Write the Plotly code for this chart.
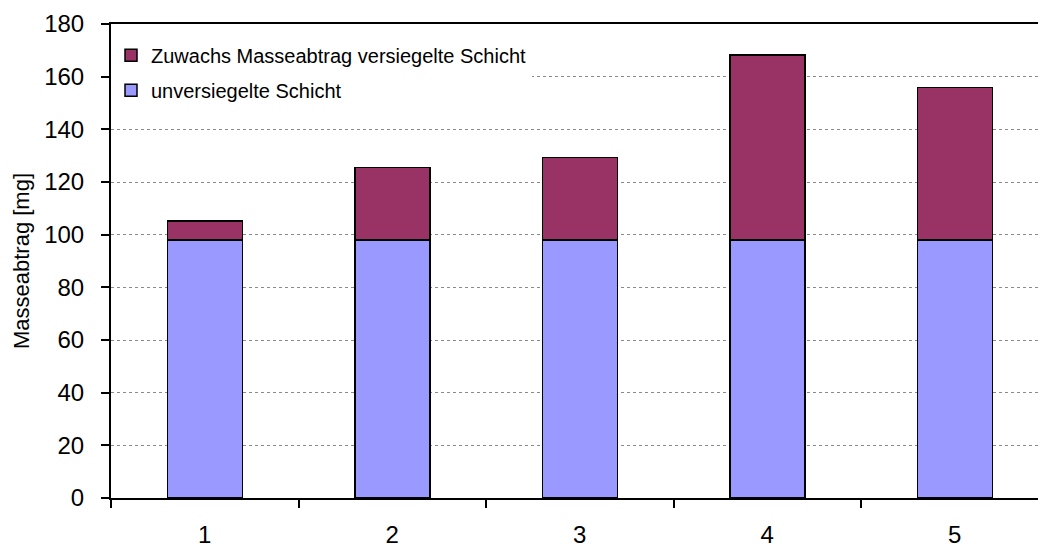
import plotly.graph_objects as go

# Versuchsnummern und Masseabtrag in mg
versuche = ["1", "2", "3", "4", "5"]
unversiegelt = [98.0, 98.0, 98.0, 98.0, 98.0]
zuwachs_versiegelt = [7.2, 27.6, 31.4, 70.2, 57.8]

y_ticks = [0, 20, 40, 60, 80, 100, 120, 140, 160, 180]

FONT = "Liberation Sans, Arial, sans-serif"

fig = go.Figure()
fig.add_trace(go.Bar(
    x=versuche, y=unversiegelt, name="unversiegelte Schicht",
    marker=dict(color="#9999FF", line=dict(color="black", width=1.5)),
    width=0.4, legendgroup="a", legendrank=2,
))
fig.add_trace(go.Bar(
    x=versuche, y=zuwachs_versiegelt, name="Zuwachs Masseabtrag versiegelte Schicht",
    marker=dict(color="#993366", line=dict(color="black", width=1.5)),
    width=0.4, legendgroup="b", legendrank=1,
))

fig.update_layout(
    barmode="stack",
    width=1038, height=547,
    margin=dict(l=111, r=0, t=24, b=49),
    paper_bgcolor="white", plot_bgcolor="white",
    font=dict(family=FONT, color="black"),
    showlegend=True,
    legend=dict(
        x=0.0, y=0.975, xanchor="left", yanchor="top",
        bgcolor="white", borderwidth=0,
        font=dict(size=20, family=FONT),
        traceorder="grouped", tracegroupgap=6,
    ),
    xaxis=dict(
        type="category", range=[-0.5, 4.444],
        tickson="boundaries", ticks="outside", ticklen=8, tickwidth=1.5,
        tickcolor="black",
        showline=True, linecolor="black", linewidth=2, mirror=True,
        showgrid=False,
        tickfont=dict(size=24, family=FONT),
        ticklabelstandoff=14,
    ),
    yaxis=dict(
        range=[0, 180], tickvals=y_ticks,
        ticks="outside", ticklen=8, tickwidth=1.5, tickcolor="black",
        showline=True, linecolor="black", linewidth=2,
        showgrid=True, gridcolor="#8a8a8a", gridwidth=1, griddash="dot",
        zeroline=False,
        tickfont=dict(size=24, family=FONT),
        ticklabelstandoff=12,
        title=dict(text="Masseabtrag [mg]", font=dict(size=22, family=FONT), standoff=8),
    ),
)

fig.write_html("out.html")
